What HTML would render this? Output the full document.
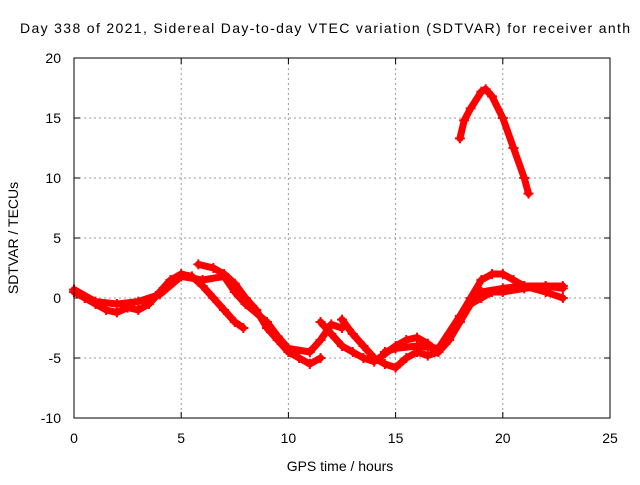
<!DOCTYPE html>
<html><head><meta charset="utf-8"><style>
body{margin:0;background:#fff}
svg text{font-family:"Liberation Sans",sans-serif;font-size:14px;fill:#000}
</style></head><body>
<svg id="c" width="640" height="480">
<text x="20" y="33" textLength="610" lengthAdjust="spacing">Day 338 of 2021, Sidereal Day-to-day VTEC variation (SDTVAR) for receiver anth</text>
<text x="340" y="471" text-anchor="middle">GPS time / hours</text>
<text transform="translate(18,238) rotate(-90)" text-anchor="middle">SDTVAR / TECUs</text>
<g id="grid"></g><g id="series"></g>
<rect x="74" y="58" width="536" height="360" fill="none" stroke="#000"/>
</svg>
<script>
const xTicks=[0,5,10,15,20,25];
const yTicks=[-10,-5,0,5,10,15,20];
const trackA=[[0,0.5],[0.5,0],[1,-0.5],[1.5,-1],[2,-1.2],[2.5,-0.8],[3,-1],[3.5,-0.5],[4,0.5],[4.5,1.5],[5,2],[5.5,1.8],[6,1],[6.5,0],[7,-1],[7.5,-2],[7.9,-2.5]];
const trackB=[[0,0.7],[1,-0.3],[2,-0.5],[3,-0.3],[4,0.3],[5,1.8],[6,1.5],[7,1.8],[7.5,0.5],[8,-0.5],[9,-2],[9.5,-3.2],[10,-4.2],[11,-4.5],[11.5,-3.5],[12,-2.2],[12.5,-2.5]];
const trackC=[[5.8,2.8],[6.5,2.5],[7,2],[7.5,1.2],[8,0],[8.5,-1],[9,-2.5],[9.5,-3.5],[10,-4.5],[10.5,-5],[11,-5.5],[11.5,-5]];
const trackD=[[12.5,-1.8],[13,-3],[13.5,-4],[14,-5],[14.5,-5.5],[15,-5.8],[15.5,-5],[16,-4.5],[16.5,-4.8],[17,-4.5],[17.5,-3],[18,-1.5],[18.5,0],[19,1.5],[19.5,2],[20,2],[20.5,1.5],[21,1],[22,1],[22.8,0.8]];
const trackE=[[11.5,-2],[12,-3],[12.5,-4],[13,-4.5],[13.5,-5],[14,-5.3],[15,-4],[15.5,-3.5],[16,-3.3],[16.5,-3.8],[17,-4.5],[17.5,-3.5],[18,-2],[18.5,-0.5],[19,0],[19.5,0.5],[20,0.5],[21,0.8],[22,1],[22.8,1]];
const trackF=[[14.5,-4.5],[15,-4.2],[16,-4],[17,-4.2],[18,-1.5],[18.5,-0.3],[19,0.5],[20,0.8],[21,1],[22,0.5],[22.8,0]];
const trackG=[[18,13.3],[18.2,14.8],[18.5,15.8],[19,17.2],[19.2,17.4],[19.5,16.8],[20,15],[20.5,12.5],[21,10],[21.2,8.7]];
const tracks=[trackA,trackB,trackC,trackD,trackE,trackF,trackG];
const X=v=>74+v*536/25, Y=v=>418-(v+10)*12;
const NS="http://www.w3.org/2000/svg";
const g=document.getElementById('grid'), s=document.getElementById('series');
function mk(p,tag,at){const e=document.createElementNS(NS,tag);for(const k in at)e.setAttribute(k,at[k]);p.appendChild(e);return e;}
xTicks.forEach(t=>{
 if(t>0&&t<25){const l=mk(g,'line',{x1:X(t),x2:X(t),y1:58,y2:418,stroke:'#999','stroke-dasharray':'2,3'});
 
 }
 const tx=mk(g,'text',{x:X(t),y:443,'text-anchor':'middle'});tx.textContent=t;
 
 
 mk(g,'line',{x1:X(t),x2:X(t),y1:418,y2:412,stroke:'#000'});mk(g,'line',{x1:X(t),x2:X(t),y1:58,y2:64,stroke:'#000'});
});
yTicks.forEach(t=>{
 if(t>-10&&t<20){const l=mk(g,'line',{x1:74,x2:610,y1:Y(t),y2:Y(t),stroke:'#999','stroke-dasharray':'2,3'});
 
 }
 const tx=mk(g,'text',{x:61,y:Y(t)+5,'text-anchor':'end'});tx.textContent=t;
 
 
 mk(g,'line',{x1:74,x2:80,y1:Y(t),y2:Y(t),stroke:'#000'});mk(g,'line',{x1:610,x2:604,y1:Y(t),y2:Y(t),stroke:'#000'});
});
tracks.forEach((tr,i)=>{
 const pl=mk(s,'polyline',{points:tr.map(p=>X(p[0])+','+Y(p[1])).join(' '),fill:'none',stroke:'#f00','stroke-width':7,'stroke-linejoin':'round','stroke-linecap':'round'});
 
 
 tr.forEach(p=>{const x=X(p[0]),y=Y(p[1]);
  const m=mk(s,'path',{d:`M${x-5},${y}H${x+5}M${x},${y-5}V${y+5}`,stroke:'#f00','stroke-width':2});
  
  });
});
</script>
</body></html>
